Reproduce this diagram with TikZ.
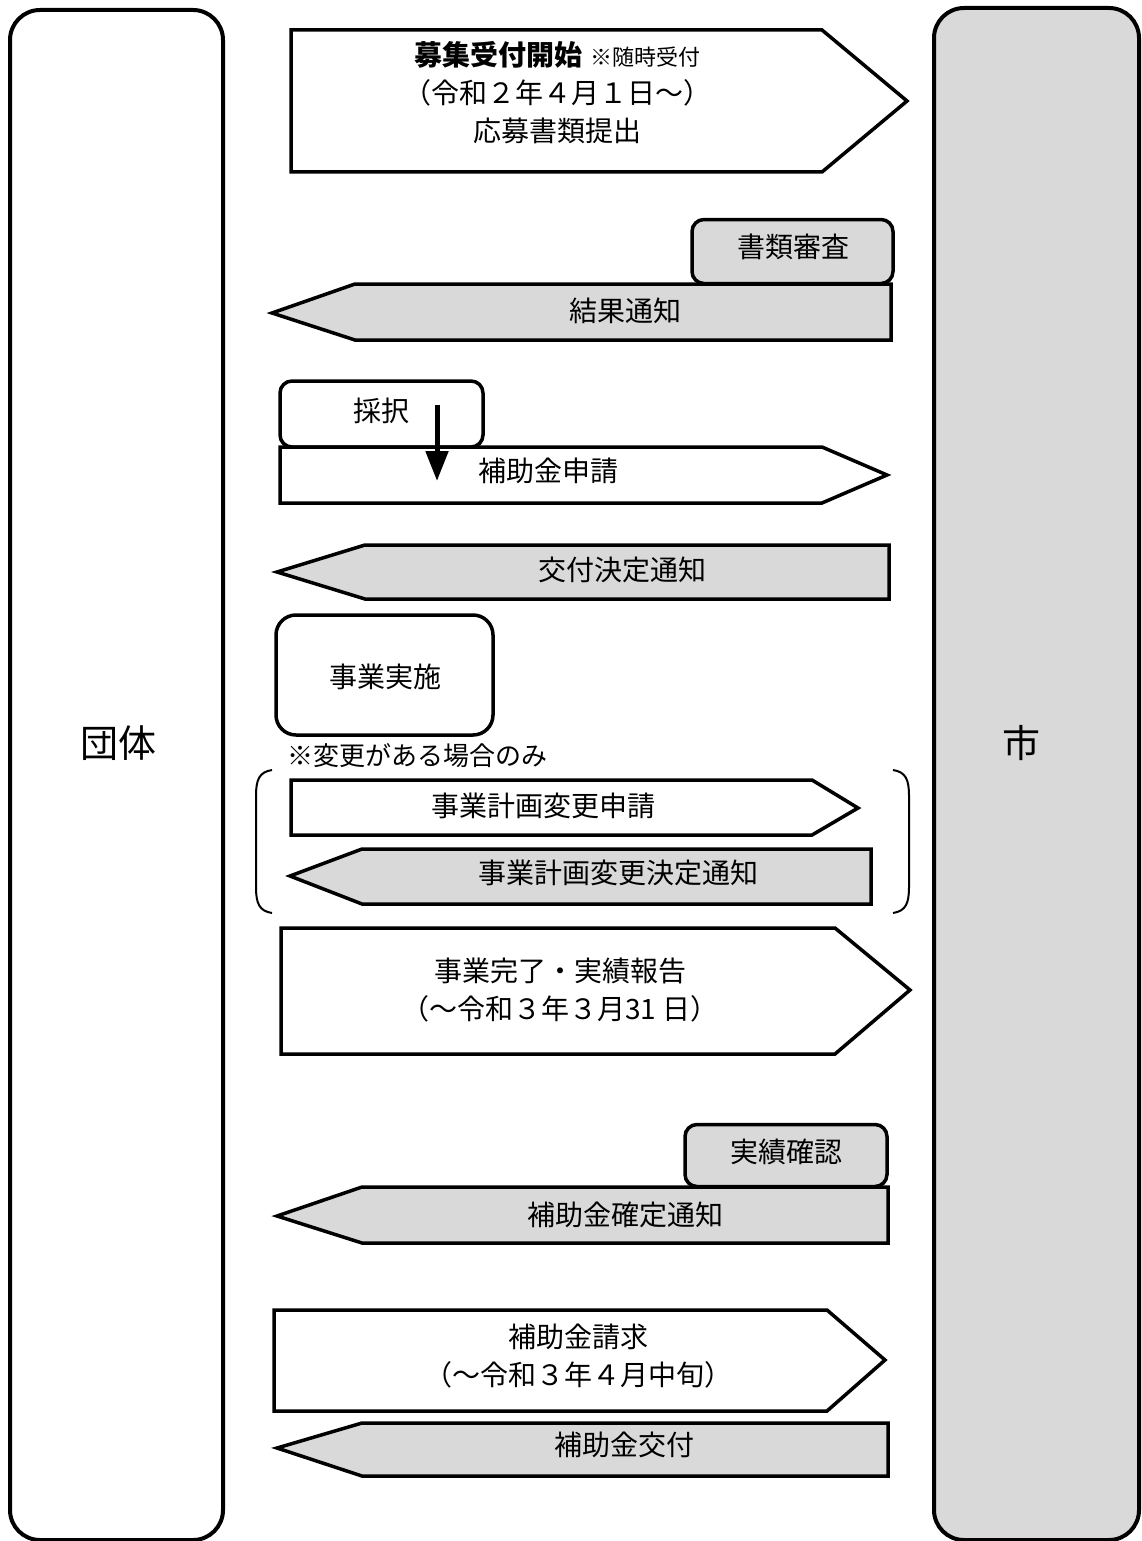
\documentclass[tikz,border=0pt]{standalone}
\usepackage{fontspec}
\setmainfont{Noto Sans CJK JP}
\usetikzlibrary{arrows.meta}
\definecolor{lanegray}{HTML}{D9D9D9}
\tikzset{
  lane/.style={draw=black, line width=4pt, rounded corners=30pt},
  flow/.style={draw=black, line width=3.5pt, line join=miter},
  tosity/.style={flow, fill=white},
  todantai/.style={flow, fill=lanegray},
  stepbox/.style={draw=black, line width=3.5pt, rounded corners=12pt, inner sep=0pt},
  lbl/.style={inner sep=0pt, font=\fontsize{28}{38}\selectfont, align=center},
  big/.style={inner sep=0pt, font=\fontsize{38}{44}\selectfont},
}
\begin{document}
\begin{tikzpicture}[x=1pt,y=-1pt]
\useasboundingbox (0,0) rectangle (1142,1541);
% lanes
\draw[lane, fill=white] (10,10) rectangle (223,1540);
\draw[lane, fill=lanegray] (934,8) rectangle (1139,1540);
\node[big] (dantai) at (118,743) {団体};
\node[big] (shi) at (1021,743) {市};

% 1 募集受付開始
\draw[tosity] (291,30) -- (822,30) -- (907,101) -- (822,172) -- (291,172) -- cycle;
\node[lbl] (boshu) at (557,93) {{\bfseries 募集受付開始}\hspace{8pt}{\fontsize{22}{24}\selectfont ※随時受付}\\（令和２年４月１日～）\\応募書類提出};

% 書類審査 / 結果通知
\draw[todantai] (891,284) -- (355,284) -- (272,313) -- (355,340) -- (891,340) -- cycle;
\node[stepbox, fill=lanegray, minimum width=201pt, minimum height=64pt] (shorui) at (792.5,251.5) {};
\node[lbl] (shoruit) at (793,247) {書類審査};
\node[lbl] (kekka) at (625,311) {結果通知};

% 採択 / 補助金申請
\node[stepbox, fill=white, minimum width=203pt, minimum height=66pt] (saitaku) at (381.5,414) {};
\node[lbl] (saitakut) at (381,411) {採択};
\draw[tosity] (280,447) -- (822,447) -- (887,475) -- (822,503) -- (280,503) -- cycle;
\node[lbl] (shinsei) at (548,471) {補助金申請};
\coordinate (dstart) at (437,405);
\coordinate (dend) at (437,481);
\draw[line width=5pt, -{Triangle[width=22pt,length=30pt]}] (dstart) -- (dend);

% 交付決定通知
\draw[todantai] (889,545) -- (365,545) -- (277,572) -- (365,599) -- (889,599) -- cycle;
\node[lbl] (kofuketu) at (622,570) {交付決定通知};

% 事業実施
\node[stepbox, fill=white, rounded corners=20pt, minimum width=217pt, minimum height=120pt] (jisshi) at (384.5,675) {};
\node[lbl] (jisshit) at (385,677) {事業実施};

% 変更
\node[inner sep=0pt, anchor=west, font=\fontsize{26}{30}\selectfont] (henko) at (287,756) {※変更がある場合のみ};
\draw[line width=2pt] (272,770) .. controls (259,772) and (256,780) .. (256,796) -- (256,887) .. controls (256,903) and (259,911) .. (272,913);
\draw[line width=2pt] (893,770) .. controls (906,772) and (909,780) .. (909,796) -- (909,887) .. controls (909,903) and (906,911) .. (893,913);
\draw[tosity] (291,780) -- (812,780) -- (858,808) -- (812,835) -- (291,835) -- cycle;
\node[lbl] (henshin) at (543,806) {事業計画変更申請};
\draw[todantai] (871,849) -- (362,849) -- (290,876) -- (362,904) -- (871,904) -- cycle;
\node[lbl] (henketu) at (618,873) {事業計画変更決定通知};

% 事業完了
\draw[tosity] (281,928) -- (835,928) -- (910,990) -- (835,1054) -- (281,1054) -- cycle;
\node[lbl] (kanryo) at (560,990) {事業完了・実績報告\\（～令和３年３月31 日）};

% 実績確認 / 補助金確定通知
\draw[todantai] (888,1187) -- (362,1187) -- (277,1216) -- (362,1243) -- (888,1243) -- cycle;
\node[stepbox, fill=lanegray, minimum width=202pt, minimum height=62pt] (jisseki) at (786,1155.5) {};
\node[lbl] (jissekit) at (786,1152) {実績確認};
\node[lbl] (kakutei) at (625,1215) {補助金確定通知};

% 補助金請求 / 交付
\draw[tosity] (274,1310) -- (827,1310) -- (885,1360) -- (827,1411) -- (274,1411) -- cycle;
\node[lbl] (seikyu) at (578,1356) {補助金請求\\（～令和３年４月中旬）};
\draw[todantai] (888,1423) -- (362,1423) -- (277,1448) -- (362,1476) -- (888,1476) -- cycle;
\node[lbl] (kofu) at (624,1445) {補助金交付};
\end{tikzpicture}
\end{document}
